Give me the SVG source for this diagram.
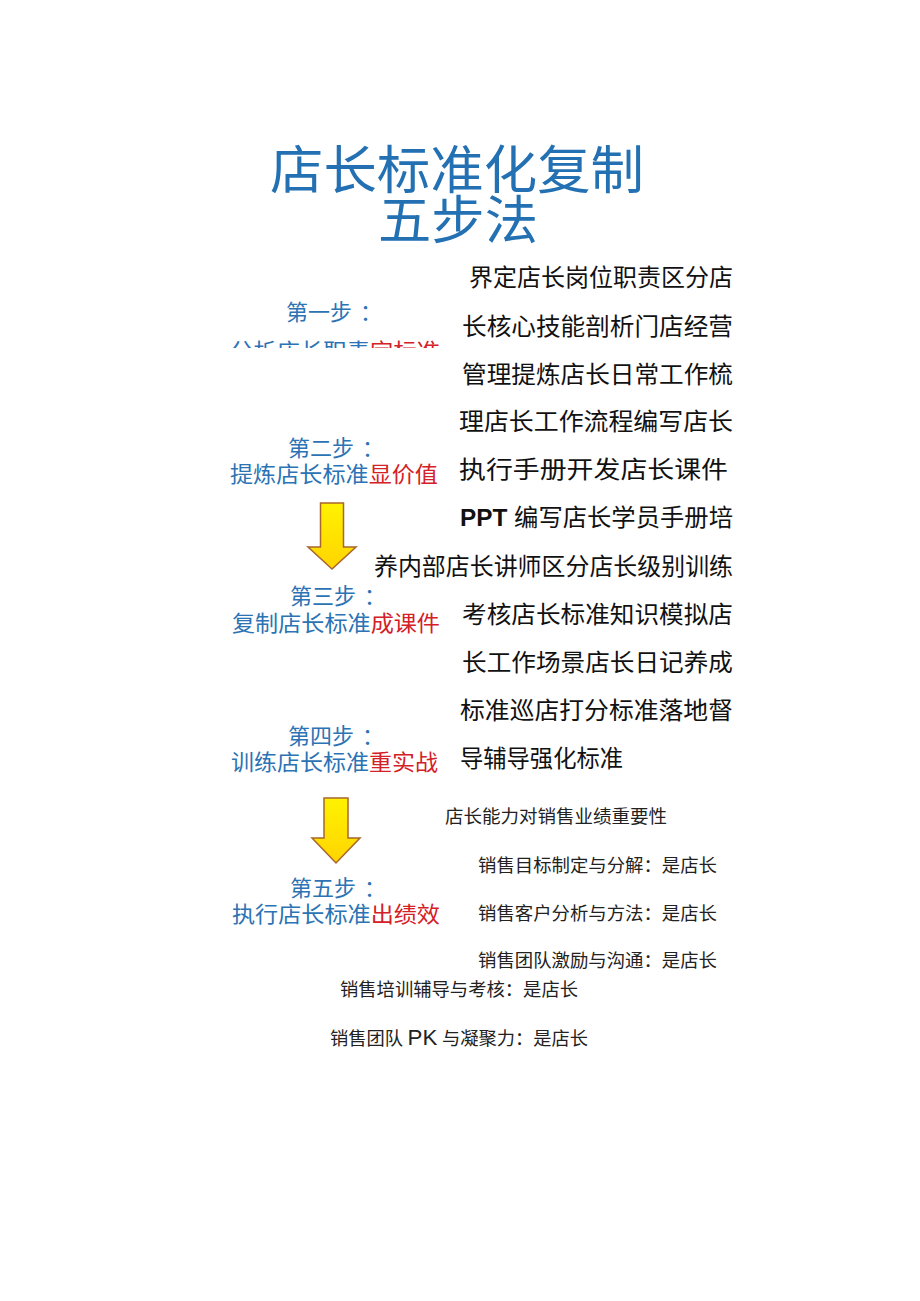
<svg xmlns="http://www.w3.org/2000/svg" width="920" height="1301" viewBox="0 0 920 1301">
<style>
.title{font-family:"Liberation Sans","Noto Sans CJK SC",sans-serif;font-size:52px;fill:#2371b3}
.step{font-family:"Liberation Sans","Noto Sans CJK SC",sans-serif;font-size:22px;fill:#2b73b4}
.red{fill:#d42027}
.body{font-family:"Liberation Sans","Noto Sans CJK SC",sans-serif;font-size:24px;fill:#111}
.small{font-family:"Liberation Serif","Noto Sans CJK SC",serif;font-size:18px;fill:#222}
.pk{font-family:"Liberation Sans",sans-serif;font-size:22px}
.arrow{fill:url(#yg);stroke:#a8652c;stroke-width:1.5}
</style>
<defs>
<linearGradient id="yg" x1="0" y1="0" x2="0" y2="1">
<stop offset="0" stop-color="#fff200"/>
<stop offset="1" stop-color="#ffd400"/>
</linearGradient>
<clipPath id="clip1"><rect x="200" y="330" width="260" height="18"/></clipPath>
</defs>
<rect width="920" height="1301" fill="#fff"/>
<g id="title">
<text class="title" x="270" y="189" textLength="374" lengthAdjust="spacingAndGlyphs">店长标准化复制</text>
<text class="title" x="378" y="239" textLength="160" lengthAdjust="spacingAndGlyphs">五步法</text>
</g>
<g id="step1">
<text class="step" x="286" y="320">第一步<tspan dx="8">：</tspan></text>
<g clip-path="url(#clip1)">
<text class="step" x="230" y="359" textLength="210" lengthAdjust="spacingAndGlyphs">分析店长职责<tspan class="red">定标准</tspan></text>
</g>
</g>
<g id="step2">
<text class="step" x="288" y="456">第二步<tspan dx="8">：</tspan></text>
<text class="step" x="230" y="482" textLength="208" lengthAdjust="spacingAndGlyphs">提炼店长标准<tspan class="red">显价值</tspan></text>
</g>
<g id="step3">
<text class="step" x="290" y="604">第三步<tspan dx="8">：</tspan></text>
<text class="step" x="232" y="631" textLength="208" lengthAdjust="spacingAndGlyphs">复制店长标准<tspan class="red">成课件</tspan></text>
</g>
<g id="step4">
<text class="step" x="288" y="744">第四步<tspan dx="8">：</tspan></text>
<text class="step" x="231" y="770" textLength="207" lengthAdjust="spacingAndGlyphs">训练店长标准<tspan class="red">重实战</tspan></text>
</g>
<g id="step5">
<text class="step" x="290" y="896">第五步<tspan dx="8">：</tspan></text>
<text class="step" x="232" y="922" textLength="208" lengthAdjust="spacingAndGlyphs">执行店长标准<tspan class="red">出绩效</tspan></text>
</g>
<g id="connectors">
<path class="arrow" d="M320.5,503 H343.5 V547 H356 L332,569 L308,547 H320.5 Z"/>
<path class="arrow" d="M324,798 H348 V838 H360 L336,863 L312,838 H324 Z"/>
</g>
<g id="description">
<text class="body" x="469" y="286" textLength="264" lengthAdjust="spacingAndGlyphs">界定店长岗位职责区分店</text>
<text class="body" x="462" y="335" textLength="271" lengthAdjust="spacingAndGlyphs">长核心技能剖析门店经营</text>
<text class="body" x="462" y="383" textLength="271" lengthAdjust="spacingAndGlyphs">管理提炼店长日常工作梳</text>
<text class="body" x="459" y="430" textLength="274" lengthAdjust="spacingAndGlyphs">理店长工作流程编写店长</text>
<text class="body" x="459" y="478" textLength="269" lengthAdjust="spacingAndGlyphs">执行手册开发店长课件</text>
<text class="body" x="460" y="526" textLength="273" lengthAdjust="spacingAndGlyphs"><tspan font-weight="bold">PPT</tspan> 编写店长学员手册培</text>
<text class="body" x="374" y="575" textLength="359" lengthAdjust="spacingAndGlyphs">养内部店长讲师区分店长级别训练</text>
<text class="body" x="462" y="623" textLength="271" lengthAdjust="spacingAndGlyphs">考核店长标准知识模拟店</text>
<text class="body" x="462" y="671" textLength="271" lengthAdjust="spacingAndGlyphs">长工作场景店长日记养成</text>
<text class="body" x="460" y="719" textLength="273" lengthAdjust="spacingAndGlyphs">标准巡店打分标准落地督</text>
<text class="body" x="460" y="767" textLength="163" lengthAdjust="spacingAndGlyphs">导辅导强化标准</text>
</g>
<g id="importance">
<text class="small" x="445" y="823" textLength="222" lengthAdjust="spacingAndGlyphs">店长能力对销售业绩重要性</text>
<text class="small" x="478" y="872" textLength="239" lengthAdjust="spacingAndGlyphs">销售目标制定与分解：是店长</text>
<text class="small" x="478" y="920" textLength="239" lengthAdjust="spacingAndGlyphs">销售客户分析与方法：是店长</text>
<text class="small" x="478" y="967" textLength="239" lengthAdjust="spacingAndGlyphs">销售团队激励与沟通：是店长</text>
<text class="small" x="340" y="996" textLength="238" lengthAdjust="spacingAndGlyphs">销售培训辅导与考核：是店长</text>
<text class="small" x="330" y="1045" textLength="258" lengthAdjust="spacingAndGlyphs">销售团队 <tspan class="pk">PK</tspan> 与凝聚力：是店长</text>
</g>
</svg>
